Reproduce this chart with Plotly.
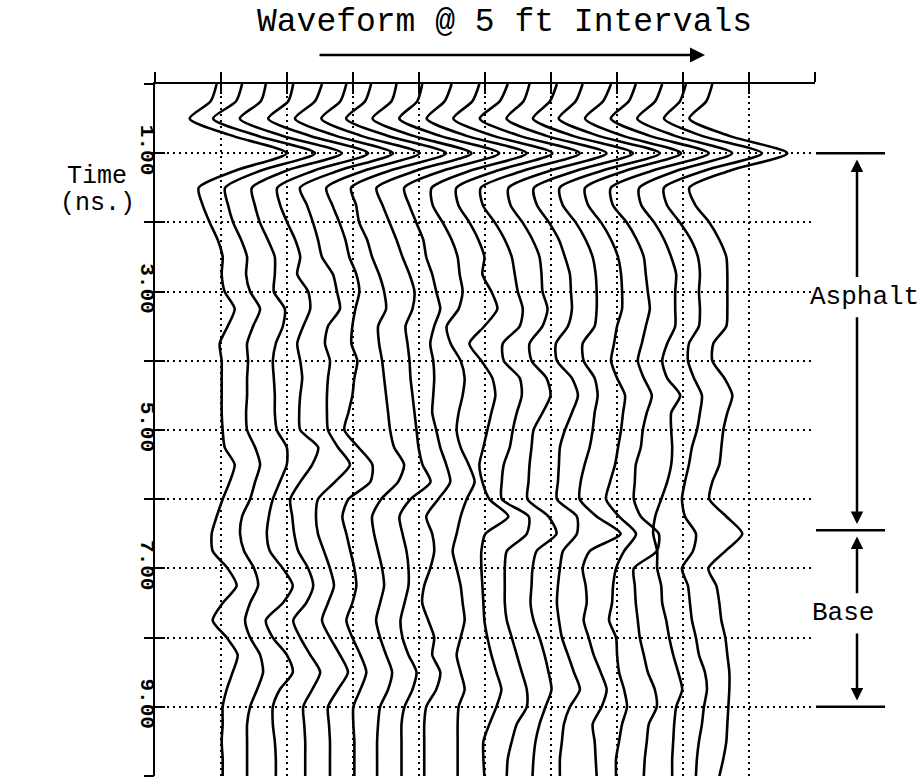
import numpy as np
import plotly.graph_objects as go

W, H = 923, 779
MONO = "Liberation Mono, DejaVu Sans Mono, monospace"

# two-way travel time of each sample (ns)
time_ns = np.arange(0, 10.0001, 0.25)

# station positions along the survey line (horizontal grid units, 5 ft apart)
station_pos = [0.98, 1.38, 1.77, 2.17, 2.56, 2.96, 3.35, 3.75, 4.14, 4.54,
               4.93, 5.33, 5.72, 6.12, 6.51, 6.91, 7.30, 7.70, 8.09, 8.49]

# display gain: amplitude counts -> horizontal grid units
gain = 1 / 66

# recorded amplitude (counts) at each time sample, one list per station
# (rows: 0-2.5 ns, 2.75-6.0 ns, 6.25-10 ns)
trace_01 = [-3, -9, -30, 13, 67, 16, -21, -17, -10, -2, 3,
            2, 5, 15, 8, 0, 2, 2, 2, 2, 3, 5, 15, 10, 3,
            -3, -8, -7, 8, 17, 3, -7, 7, 18, 13, 7, 3, 3, 2, 3, 3]
trace_02 = [-4, -10, -33, 12, 69, 15, -21, -18, -13, -5, 1,
            0, 4, 14, 7, 1, 2, 1, 1, 0, 1, 9, 14, 9, 4,
            -4, -6, -2, 8, 12, 4, -1, 4, 14, 17, 11, 4, 1, 1, 1, 1]
trace_03 = [-6, -11, -32, 11, 70, 15, -20, -17, -12, -4, 3,
            3, 2, 13, 11, 4, 1, 2, 3, 3, 5, 15, 15, 8, 1,
            -3, -5, -2, 11, 21, 11, -6, 1, 15, 21, 8, 1, 1, 3, 4, 4]
trace_04 = [-5, -10, -30, 12, 70, 16, -21, -18, -11, -3, 2,
            -1, 10, 12, 5, -1, 2, 4, 2, 1, 2, 20, 14, 2, -8,
            -6, -4, 0, 10, 15, 8, -5, 2, 12, 22, 14, 5, 6, 7, 7, 7]
trace_05 = [-2, -9, -29, 12, 69, 15, -24, -17, -11, -6, -2,
            9, 13, 16, 4, 1, 6, 4, 3, 3, 4, 14, 26, 11, -6,
            -8, -6, 0, 6, 10, 4, -2, 6, 16, 24, 14, 4, 5, 6, 6, 6]
trace_06 = [-4, -10, -29, 11, 69, 14, -24, -18, -11, -5, -1,
            6, 9, 5, 2, 1, 7, 4, 2, -2, -6, 8, 22, 20, -2,
            -8, -4, 0, 4, 6, 2, -4, 2, 10, 16, 10, 3, 3, 4, 4, 4]
trace_07 = [-5, -11, -30, 12, 70, 14, -25, -20, -17, -9, -4,
            3, 8, 10, 2, 3, 6, 8, 10, 12, 14, 18, 28, 22, 5,
            -4, -2, 2, 6, 8, 4, 0, 4, 10, 16, 12, 4, 2, 1, 1, 1]
trace_08 = [-6, -11, -30, 11, 69, 14, -26, -20, -13, -6, 0,
            7, 12, 10, 3, 5, 7, 8, 10, 12, 14, 16, 20, 28, 8,
            -3, 0, 4, 6, 6, 2, -2, 0, 6, 14, 10, 2, -1, -1, -1, -1]
trace_09 = [-6, -11, -29, 12, 71, 15, -24, -19, -12, -5, -2,
            4, 8, 12, 6, 2, 5, 6, 5, 4, 8, 12, 18, 22, 10,
            -2, 4, 6, 2, -4, -6, 0, 6, 4, 12, 8, -2, -4, -4, -4, -4]
trace_10 = [-3, -10, -28, 12, 72, 16, -23, -22, -12, -3, 3,
            5, 8, 4, -8, -4, 6, 10, 8, 4, 2, 6, 14, 20, 12,
            6, 2, -2, 2, 6, 8, 10, 6, 2, 6, 10, 4, 3, 3, 3, 3]
trace_11 = [-1, -8, -27, 13, 72, 17, -24, -22, -11, -2, 4,
            2, 11, 17, 4, -11, 1, 12, 15, 11, 7, 3, -1, 2, 9,
            28, 5, 1, 1, 2, 3, 4, 7, 11, 16, 21, 16, 9, 3, 3, 4]
trace_12 = [1, -7, -27, 13, 73, 17, -26, -24, -12, -2, 5,
            8, 11, 16, 13, -4, -3, 13, 15, 10, 6, 3, -3, -5, -5,
            22, 20, 0, -2, -2, -2, 0, 5, 10, 15, 20, 20, 10, 5, 1, 0]
trace_13 = [-3, -9, -26, 14, 74, 18, -24, -22, -10, 0, 7,
            9, 10, 15, 10, -3, -1, 14, 18, 10, 1, -1, -3, -4, -5,
            16, 24, 4, 0, -1, -2, 1, 7, 12, 16, 19, 13, 7, 3, 1, 0]
trace_14 = [-2, -9, -26, 14, 74, 18, -25, -22, -10, 0, 6,
            11, 12, 13, 9, -3, -2, 13, 19, 13, 6, 1, 0, -1, -2,
            18, 18, 4, 1, -1, -2, 0, 3, 9, 15, 21, 11, 5, 3, 1, 1]
trace_15 = [-2, -9, -26, 14, 75, 18, -25, -22, -9, 1, 8,
            11, 12, 12, 10, -2, -1, 10, 13, 10, 8, 5, 0, -4, -5,
            12, 36, 5, -2, 1, 2, -1, 4, 9, 16, 22, 17, 8, 10, 11, 12]
trace_16 = [0, -8, -26, 12, 70, 15, -26, -23, -10, 0, 7,
            10, 11, 11, 6, 3, 0, 6, 14, 12, 10, 7, 4, -1, -5,
            8, 25, 13, 5, 2, 1, -2, 5, 6, 8, 13, 16, 11, 8, 5, 5]
trace_17 = [-1, -8, -26, 13, 72, 16, -26, -24, -10, 0, 7,
            9, 11, 13, 9, 5, 1, 7, 15, 10, 6, 4, -1, -2, -3,
            4, 22, 20, -3, -2, -1, 1, 3, 7, 11, 18, 20, 12, 10, 8, 7]
trace_18 = [-1, -8, -26, 12, 69, 14, -24, -22, -9, 1, 8,
            13, 12, 12, 12, 4, -1, 4, 17, 8, 8, 9, 8, 4, -2,
            -8, -10, -6, -6, -2, -1, 3, 6, 10, 15, 19, 13, 11, 10, 9, 9]
trace_19 = [-3, -9, -25, 13, 73, 16, -25, -22, -9, 2, 9,
            11, 10, 11, 10, 0, -1, 5, 13, 11, 8, 3, 0, -4, -7,
            -4, 7, 4, -7, -1, 1, 3, 7, 10, 16, 18, 15, 13, 10, 8, 7]
trace_20 = [-3, -9, -26, 14, 72, 15, -26, -20, -6, 4, 11,
            12, 12, 12, 11, -2, -3, 9, 17, 12, 8, 6, 4, -3, -6,
            11, 27, 10, -7, 1, 4, 6, 10, 12, 14, 14, 13, 12, 11, 8, 4]

traces = [trace_01, trace_02, trace_03, trace_04, trace_05, trace_06, trace_07,
          trace_08, trace_09, trace_10, trace_11, trace_12, trace_13, trace_14,
          trace_15, trace_16, trace_17, trace_18, trace_19, trace_20]

# layer interfaces picked on the section (ns) and the layer names between them
interface_ns = [1.0, 6.45, 9.0]
layer_names = ["Asphalt", "Base"]
layer_label_ns = [3.08, 7.65]

time_ticks = list(range(0, 11))
time_tick_text = ["%.2f" % t if t % 2 == 1 else "" for t in time_ticks]


def px_x(p):
    return p / W


def px_y(p):
    return 1 - p / H


fig = go.Figure()

for pos, amp in zip(station_pos, traces):
    fig.add_trace(go.Scatter(
        x=pos + np.asarray(amp) * gain, y=time_ns, mode="lines",
        line=dict(color="black", width=2.6, shape="spline", smoothing=0.7),
        showlegend=False, hoverinfo="skip"))

x_dom = [px_x(155), px_x(815)]
y_dom = [1 - 776 / H, 1 - 84 / H]
grid = dict(showgrid=True, gridcolor="black", gridwidth=1.6, griddash="2px,4px")

fig.update_layout(
    width=W, height=H, margin=dict(l=0, r=0, t=0, b=0),
    paper_bgcolor="white", plot_bgcolor="white",
    xaxis=dict(domain=x_dom, range=[0, 10], side="top", anchor="y",
               showline=True, linecolor="black", linewidth=2,
               ticks="outside", ticklen=10, tickwidth=1.5, tickcolor="black",
               tickvals=list(range(0, 11)), showticklabels=False,
               zeroline=False, **grid),
    xaxis2=dict(domain=x_dom, range=[0, 10], side="top", overlaying="x", anchor="y",
                showline=False, ticks="inside", ticklen=10, tickwidth=1.5,
                tickcolor="black", tickvals=list(range(0, 11)),
                showticklabels=False, showgrid=False, zeroline=False),
    yaxis=dict(domain=y_dom, range=[10, 0], anchor="x",
               showline=True, linecolor="black", linewidth=2,
               ticks="inside", ticklen=10, tickwidth=1.5, tickcolor="black",
               tickvals=time_ticks, ticktext=time_tick_text, tickangle=90,
               ticklabelstandoff=-13,
               tickfont=dict(family=MONO, size=21, color="black", weight="bold"),
               zeroline=False, **grid),
    yaxis2=dict(domain=y_dom, range=[10, 0], overlaying="y", anchor="x",
                showline=False, ticks="outside", ticklen=10, tickwidth=1.5,
                tickcolor="black", tickvals=time_ticks, showticklabels=False,
                showgrid=False, zeroline=False),
)

# invisible helpers so the overlay axes are drawn
fig.add_trace(go.Scatter(x=[None], y=[None], xaxis="x2", yaxis="y",
                         showlegend=False, hoverinfo="skip"))
fig.add_trace(go.Scatter(x=[None], y=[None], xaxis="x", yaxis="y2",
                         showlegend=False, hoverinfo="skip"))

# title and direction of travel
fig.add_annotation(x=px_x(504), y=px_y(22), xref="paper", yref="paper",
                   xanchor="center", yanchor="middle",
                   text="Waveform @ 5 ft Intervals", showarrow=False,
                   font=dict(family=MONO, size=33, color="black"))
fig.add_annotation(x=px_x(705), y=px_y(55), xref="paper", yref="paper",
                   ax=-387, ay=0, text="", showarrow=True,
                   arrowhead=2, arrowsize=1.2, arrowwidth=2.5, arrowcolor="black")

# vertical axis title
fig.add_annotation(x=px_x(97), y=px_y(176), xref="paper", yref="paper",
                   xanchor="center", yanchor="middle",
                   text="Time", showarrow=False,
                   font=dict(family=MONO, size=25, color="black"))
fig.add_annotation(x=px_x(97), y=px_y(203), xref="paper", yref="paper",
                   xanchor="center", yanchor="middle",
                   text="(ns.)", showarrow=False,
                   font=dict(family=MONO, size=25, color="black"))

# layer interfaces on the right-hand side
for t in interface_ns:
    fig.add_shape(type="line", xref="paper", yref="y",
                  x0=px_x(816), x1=px_x(885), y0=t, y1=t,
                  line=dict(color="black", width=2.5))

arrow_x = px_x(857)
for (top, bottom), name, lab_t, lab_x in zip(
        zip(interface_ns[:-1], interface_ns[1:]), layer_names, layer_label_ns,
        [px_x(864), px_x(843)]):
    fig.add_annotation(x=lab_x, y=lab_t, xref="paper", yref="y",
                       xanchor="center", yanchor="middle",
                       text=name, showarrow=False,
                       font=dict(family=MONO, size=26, color="black"))
    gap = 0.27
    fig.add_annotation(x=arrow_x, y=top + 0.09, xref="paper", yref="y",
                       axref="pixel", ayref="y", ax=0, ay=lab_t - gap,
                       text="", showarrow=True, arrowhead=2, arrowsize=1,
                       arrowwidth=2.5, arrowcolor="black")
    fig.add_annotation(x=arrow_x, y=bottom - 0.09, xref="paper", yref="y",
                       axref="pixel", ayref="y", ax=0, ay=lab_t + gap,
                       text="", showarrow=True, arrowhead=2, arrowsize=1,
                       arrowwidth=2.5, arrowcolor="black")

fig.write_html("out.html")
